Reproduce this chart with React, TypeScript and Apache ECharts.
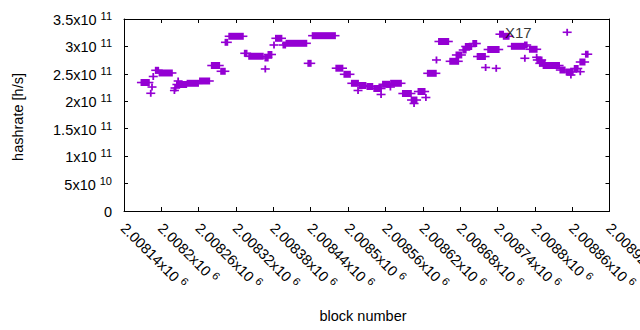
import React, { useEffect, useRef } from "react";
import * as echarts from "echarts";

const PURPLE = "#9400d3";
const FONT = "'Liberation Sans', Arial, sans-serif";

// x axis (block number) and y axis (hashrate) ranges
const xMin = 2008140;
const xMax = 2008920;
const xStep = 60;
const yMin = 0;
const yMax = 3.5e11;
const yStep = 5e10;

// Runs of consecutive blocks sharing (nearly) the same hashrate estimate
const runStart = [
  2008168, 2008191, 2008197, 2008222, 2008225, 2008242, 2008262, 2008281, 2008296, 2008303,
  2008309, 2008334, 2008341, 2008367, 2008372, 2008384, 2008396, 2008401, 2008436, 2008443,
  2008481, 2008494, 2008506, 2008519, 2008531, 2008542, 2008556, 2008569, 2008588, 2008602,
  2008613, 2008628, 2008646, 2008664, 2008674, 2008685, 2008689, 2008701, 2008708, 2008725,
  2008744, 2008750, 2008763, 2008784, 2008792, 2008804, 2008808, 2008814, 2008841, 2008851,
  2008864, 2008873, 2008882,
];
const runEnd = [
  2008180, 2008195, 2008217, 2008223, 2008240, 2008259, 2008277, 2008293, 2008302, 2008306,
  2008331, 2008337, 2008363, 2008371, 2008377, 2008393, 2008399, 2008433, 2008440, 2008479,
  2008491, 2008503, 2008516, 2008528, 2008539, 2008553, 2008566, 2008585, 2008601, 2008610,
  2008623, 2008641, 2008661, 2008677, 2008682, 2008689, 2008698, 2008706, 2008720, 2008742,
  2008749, 2008758, 2008783, 2008787, 2008803, 2008811, 2008816, 2008839, 2008848, 2008861,
  2008869, 2008880, 2008885,
];
const runValue = [
  2.342e11, 2.565e11, 2.516e11, 2.242e11, 2.306e11, 2.328e11, 2.37e11, 2.652e11, 2.547e11, 3.075e11,
  3.185e11, 2.875e11, 2.82e11, 2.789e11, 2.853e11, 3.148e11, 3.026e11, 3.057e11, 2.692e11, 3.196e11,
  2.603e11, 2.492e11, 2.328e11, 2.288e11, 2.27e11, 2.233e11, 2.31e11, 2.328e11, 2.142e11, 2.023e11,
  2.178e11, 2.51e11, 3.09e11, 2.729e11, 2.844e11, 2.935e11, 2.999e11, 3.053e11, 2.816e11, 2.944e11,
  3.223e11, 3.185e11, 3.002e11, 3.026e11, 2.948e11, 2.753e11, 2.692e11, 2.652e11, 2.57e11, 2.534e11,
  2.598e11, 2.716e11, 2.858e11,
];

// Isolated blocks
const pointBlock = [
  2008183, 2008185, 2008187, 2008221, 2008227, 2008367, 2008381, 2008516, 2008553, 2008568,
  2008606, 2008625, 2008642, 2008721, 2008738, 2008784, 2008803, 2008852, 2008858, 2008873,
];
const pointValue = [
  2.146e11, 2.26e11, 2.452e11, 2.197e11, 2.37e11, 2.589e11, 3.026e11, 2.197e11, 2.124e11, 2.26e11,
  1.96e11, 2.069e11, 2.753e11, 2.616e11, 2.601e11, 2.784e11, 2.802e11, 3.258e11, 2.479e11, 2.539e11,
];

// Text annotation
const noteText = "X17";
const noteBlock = 2008752;
const noteValue = 3.263e11;

function sci(v: number): string {
  if (v === 0) return "{m|0}";
  const e = Math.floor(Math.log10(v) + 1e-9);
  const m = parseFloat((v / Math.pow(10, e)).toFixed(5));
  return `{m|${m}x10}{s|${e}}`;
}

const richStyles = {
  m: { fontSize: 14.5, fontFamily: FONT, color: "#000", verticalAlign: "bottom", lineHeight: 17 },
  s: { fontSize: 11, fontFamily: FONT, color: "#000", verticalAlign: "bottom", lineHeight: 11, padding: [0, 0, 6, 4] },
};

function renderRun(params: any, api: any) {
  const v = api.value(2);
  const a = api.coord([api.value(0), v]);
  const b = api.coord([api.value(1), v]);
  return {
    type: "group",
    children: [
      {
        type: "rect",
        shape: { x: a[0] - 0.9, y: a[1] - 3.5, width: b[0] - a[0] + 1.8, height: 7 },
        style: { fill: PURPLE },
      },
      {
        type: "line",
        shape: { x1: a[0] - 4.5, y1: a[1], x2: b[0] + 4.5, y2: a[1] },
        style: { stroke: PURPLE, lineWidth: 1.6 },
      },
    ],
  };
}

export default function App() {
  const ref = useRef<HTMLDivElement>(null);
  useEffect(() => {
    if (!ref.current) return;
    const chart = echarts.init(ref.current, null, { renderer: "svg" });
    const runData = runStart.map((s, i) => [s, runEnd[i], runValue[i]]);
    const pointData = pointBlock.map((b, i) => [b, b, pointValue[i]]);
    const axisCommon = {
      type: "value",
      splitLine: { show: false },
      axisLine: { show: true, onZero: false, lineStyle: { color: "#000", width: 1 } },
      axisTick: { show: true, inside: true, length: 4, lineStyle: { color: "#000" } },
    };
    chart.setOption({
      animation: false,
      backgroundColor: "#fff",
      grid: {
        left: 124,
        right: 30.5,
        top: 19,
        bottom: 119,
        containLabel: false,
        outerBoundsMode: "none",
      },
      xAxis: [
        {
          ...axisCommon,
          position: "bottom",
          min: xMin,
          max: xMax,
          interval: xStep,
          axisLabel: {
            rotate: -45,
            margin: 14,
            formatter: (v: number) => sci(v),
            rich: richStyles,
            showMinLabel: true,
            showMaxLabel: true,
            hideOverlap: false,
          },
        },
        {
          ...axisCommon,
          position: "top",
          min: xMin,
          max: xMax,
          interval: xStep,
          axisLabel: { show: false },
        },
      ],
      yAxis: [
        {
          ...axisCommon,
          position: "left",
          min: yMin,
          max: yMax,
          interval: yStep,
          axisLabel: {
            margin: 12,
            formatter: (v: number) => sci(v),
            rich: richStyles,
          },
        },
        {
          ...axisCommon,
          position: "right",
          min: yMin,
          max: yMax,
          interval: yStep,
          axisLabel: { show: false },
        },
      ],
      series: [
        {
          type: "custom",
          renderItem: renderRun,
          data: runData,
          encode: { x: [0, 1], y: 2 },
          clip: true,
        },
        {
          type: "custom",
          renderItem: renderRun,
          data: pointData,
          encode: { x: [0, 1], y: 2 },
          clip: true,
        },
        {
          type: "scatter",
          data: [[noteBlock, noteValue]],
          symbolSize: 0,
          itemStyle: { color: "transparent" },
          label: {
            show: true,
            position: "right",
            distance: 0,
            formatter: noteText,
            fontSize: 15,
            fontFamily: FONT,
            color: "#000",
          },
          z: 5,
        },
      ],
      graphic: [
        {
          type: "text",
          x: 18,
          y: 117,
          rotation: Math.PI / 2,
          style: {
            text: "hashrate [h/s]",
            fontSize: 14.5,
            fontFamily: FONT,
            fill: "#000",
            align: "center",
            verticalAlign: "middle",
          },
        },
        {
          type: "text",
          x: 363,
          y: 316,
          style: {
            text: "block number",
            fontSize: 14.5,
            fontFamily: FONT,
            fill: "#000",
            align: "center",
            verticalAlign: "middle",
          },
        },
      ],
    });
    return () => chart.dispose();
  }, []);
  return (
    <div
      ref={ref}
      style={{ position: "fixed", left: 0, top: 0, width: 640, height: 330, background: "#fff" }}
    />
  );
}
